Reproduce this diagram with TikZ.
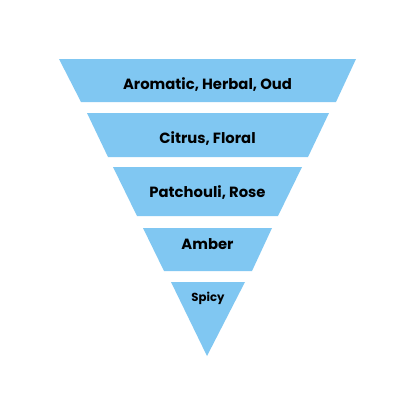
\documentclass[tikz,border=0pt]{standalone}
\usepackage{fontspec}
\setmainfont{Poppins}[UprightFont=* SemiBold, BoldFont=* Bold]
\definecolor{layerblue}{HTML}{80C7F2}
\tikzset{
  layer/.style={fill=layerblue, draw=none},
  lbl/.style={font=\bfseries\fontsize{14.8}{17}\selectfont, text=black, inner sep=0pt},
  smalllbl/.style={font=\bfseries\fontsize{11.7}{14}\selectfont, text=black, inner sep=0pt}
}
\begin{document}
\begin{tikzpicture}[x=1pt,y=-1pt]
\useasboundingbox[fill=white] (0,0) rectangle (416,416);
\fill[layer] (59,59) -- (356,59) -- (336,102) -- (81,102) -- cycle;
\fill[layer] (87,113) -- (329,113) -- (308,157) -- (108,157) -- cycle;
\fill[layer] (113,167) -- (302,167) -- (278,216) -- (137,216) -- cycle;
\fill[layer] (143,228) -- (272,228) -- (252,271) -- (164,271) -- cycle;
\fill[layer] (171,282) -- (245,282) -- (207,356) -- cycle;
\node[lbl] (l1) at (207.5,84.5) {Aromatic, Herbal, Oud};
\node[lbl] (l2) at (207.5,138.5) {Citrus, Floral};
\node[lbl] (l3) at (207.5,192.5) {Patchouli, Rose};
\node[lbl] (l4) at (207.5,244.5) {Amber};
\node[smalllbl] (l5) at (208,298) {Spicy};
\end{tikzpicture}
\end{document}
